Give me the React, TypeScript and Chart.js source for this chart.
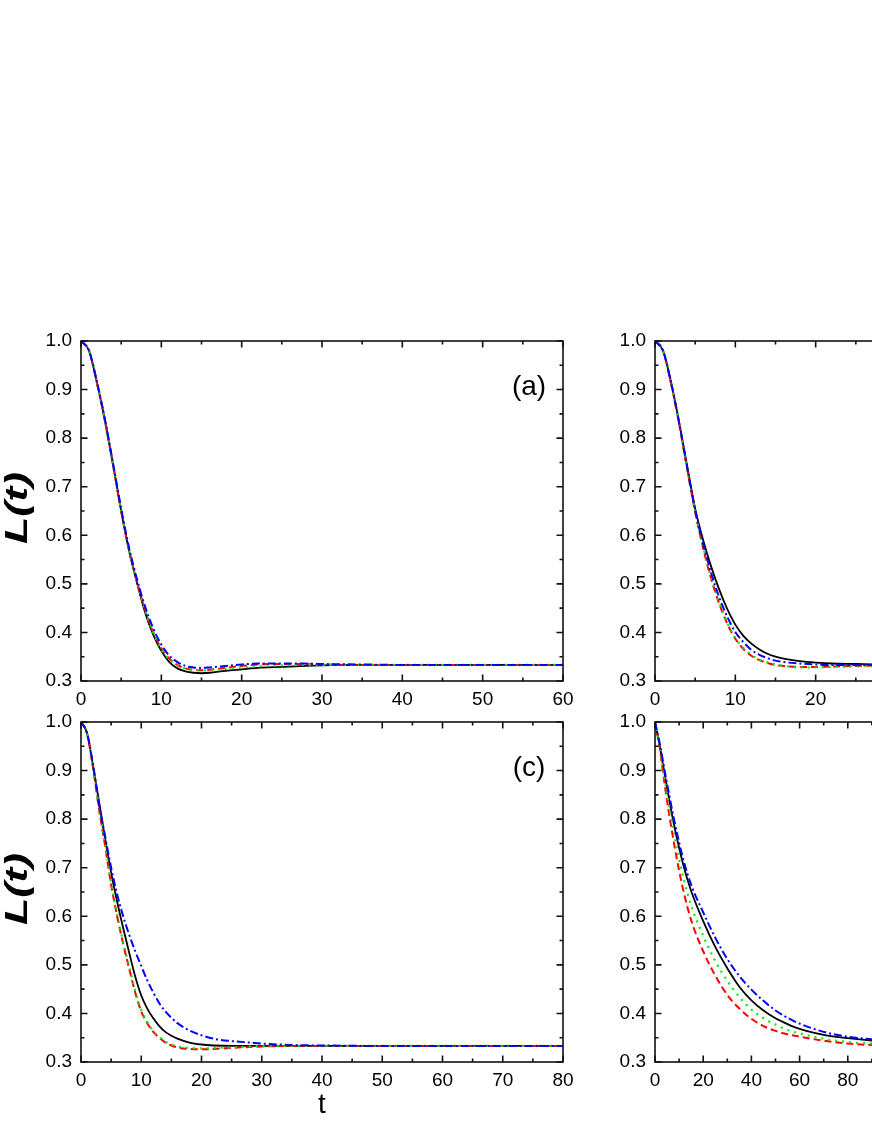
import React, { useEffect, useRef } from 'react';
import { Chart, registerables } from 'chart.js';

Chart.register(...registerables);

// ---------- data ----------
const tAB = [0, 1, 2, 3, 4, 5, 6, 7, 8, 9, 10, 11, 12, 13, 14, 15, 16, 18, 20, 22, 25, 28, 30, 35, 40, 45, 50, 55, 60];
const blackA = [1.0, 0.98, 0.913, 0.835, 0.745, 0.65, 0.567, 0.5, 0.44, 0.395, 0.362, 0.339, 0.326, 0.32, 0.317, 0.316, 0.317, 0.321, 0.324, 0.327, 0.329, 0.331, 0.332, 0.333, 0.333, 0.333, 0.333, 0.333, 0.333];
const redA = [1.0, 0.98, 0.913, 0.833, 0.743, 0.65, 0.568, 0.503, 0.445, 0.4, 0.367, 0.346, 0.333, 0.326, 0.323, 0.322, 0.323, 0.327, 0.331, 0.334, 0.335, 0.335, 0.334, 0.333, 0.333, 0.333, 0.333, 0.333, 0.333];
const greenA = [1.0, 0.98, 0.913, 0.833, 0.743, 0.65, 0.568, 0.503, 0.445, 0.4, 0.366, 0.344, 0.332, 0.326, 0.323, 0.322, 0.322, 0.325, 0.328, 0.33, 0.332, 0.333, 0.333, 0.333, 0.333, 0.333, 0.333, 0.333, 0.333];
const blueA = [1.0, 0.98, 0.915, 0.837, 0.747, 0.655, 0.573, 0.508, 0.452, 0.408, 0.375, 0.352, 0.339, 0.331, 0.328, 0.327, 0.328, 0.331, 0.334, 0.336, 0.336, 0.336, 0.335, 0.334, 0.333, 0.333, 0.333, 0.333, 0.333];

const blackB = [1.0, 0.98, 0.915, 0.833, 0.743, 0.655, 0.59, 0.535, 0.488, 0.448, 0.416, 0.393, 0.377, 0.365, 0.356, 0.35, 0.346, 0.341, 0.338, 0.336, 0.335, 0.334, 0.334, 0.333, 0.333, 0.333, 0.333, 0.333, 0.333];
const redB = [1.0, 0.98, 0.913, 0.83, 0.737, 0.648, 0.573, 0.51, 0.459, 0.418, 0.387, 0.366, 0.352, 0.343, 0.337, 0.333, 0.331, 0.329, 0.329, 0.33, 0.331, 0.332, 0.333, 0.333, 0.333, 0.333, 0.333, 0.333, 0.333];
const greenB = [1.0, 0.98, 0.913, 0.83, 0.737, 0.648, 0.575, 0.513, 0.462, 0.42, 0.389, 0.368, 0.354, 0.344, 0.338, 0.334, 0.331, 0.328, 0.328, 0.329, 0.33, 0.331, 0.332, 0.333, 0.333, 0.333, 0.333, 0.333, 0.333];
const blueB = [1.0, 0.98, 0.914, 0.832, 0.74, 0.652, 0.582, 0.522, 0.472, 0.432, 0.401, 0.38, 0.364, 0.354, 0.347, 0.342, 0.339, 0.336, 0.334, 0.333, 0.333, 0.333, 0.333, 0.333, 0.333, 0.333, 0.333, 0.333, 0.333];

const tC = [0, 1, 2, 3, 4, 5, 6, 7, 8, 9, 10, 11, 12, 13, 14, 15, 16, 18, 20, 22, 25, 28, 30, 35, 40, 50, 60, 70, 80];
const blackC = [1.0, 0.977, 0.91, 0.836, 0.76, 0.69, 0.63, 0.576, 0.525, 0.476, 0.437, 0.41, 0.39, 0.374, 0.362, 0.354, 0.348, 0.34, 0.336, 0.334, 0.333, 0.333, 0.333, 0.333, 0.333, 0.333, 0.333, 0.333, 0.333];
const redC = [1.0, 0.977, 0.905, 0.82, 0.745, 0.665, 0.6, 0.543, 0.492, 0.443, 0.404, 0.38, 0.362, 0.35, 0.34, 0.334, 0.33, 0.327, 0.326, 0.327, 0.329, 0.331, 0.332, 0.333, 0.333, 0.333, 0.333, 0.333, 0.333];
const greenC = [1.0, 0.977, 0.906, 0.822, 0.748, 0.668, 0.603, 0.546, 0.496, 0.447, 0.407, 0.382, 0.364, 0.352, 0.342, 0.336, 0.332, 0.329, 0.328, 0.329, 0.33, 0.332, 0.333, 0.333, 0.333, 0.333, 0.333, 0.333, 0.333];
const blueC = [1.0, 0.977, 0.912, 0.83, 0.765, 0.7, 0.645, 0.6, 0.562, 0.528, 0.498, 0.468, 0.443, 0.421, 0.404, 0.391, 0.38, 0.365, 0.355, 0.348, 0.343, 0.34, 0.338, 0.335, 0.334, 0.333, 0.333, 0.333, 0.333];

const tD = [0, 2, 4, 6, 8, 10, 12, 15, 20, 25, 30, 35, 40, 45, 50, 55, 60, 70, 80, 90, 100, 120, 140, 160, 180, 200];
const blackD = [1.0, 0.95, 0.893, 0.837, 0.786, 0.741, 0.701, 0.652, 0.59, 0.537, 0.493, 0.455, 0.427, 0.406, 0.39, 0.378, 0.368, 0.356, 0.349, 0.344, 0.341, 0.337, 0.335, 0.334, 0.333, 0.333];
const redD = [1.0, 0.945, 0.872, 0.806, 0.747, 0.694, 0.648, 0.592, 0.528, 0.478, 0.438, 0.41, 0.389, 0.374, 0.364, 0.357, 0.352, 0.344, 0.338, 0.335, 0.334, 0.333, 0.333, 0.333, 0.333, 0.333];
const greenD = [1.0, 0.948, 0.882, 0.822, 0.767, 0.717, 0.675, 0.622, 0.56, 0.508, 0.467, 0.434, 0.408, 0.39, 0.377, 0.366, 0.359, 0.348, 0.341, 0.338, 0.336, 0.334, 0.333, 0.333, 0.333, 0.333];
const blueD = [1.0, 0.955, 0.9, 0.847, 0.797, 0.752, 0.712, 0.665, 0.608, 0.556, 0.512, 0.477, 0.449, 0.426, 0.406, 0.391, 0.379, 0.362, 0.352, 0.347, 0.343, 0.338, 0.336, 0.335, 0.334, 0.334];

const yTickMin = 0.3;
const yTickMax = 1.0;
const yTickStep = 0.1;
const panelLabels = ['(a)', '(b)', '(c)', '(d)'];
const yTitle = 'L(t)';
const xTitle = 't';

// ---------- styling ----------
const FONT = '"Liberation Sans", Arial, Helvetica, sans-serif';

const framePlugin = {
  id: 'frame',
  afterDatasetsDraw(chart: any, _args: any, opts: any) {
    const { ctx, chartArea: a, scales } = chart;
    const xs = scales.x;
    const ys = scales.y;
    ctx.save();
    ctx.strokeStyle = '#111';
    ctx.lineWidth = 1.6;
    ctx.strokeRect(a.left, a.top, a.right - a.left, a.bottom - a.top);
    const major = 6.5;
    const minor = 3.5;
    ctx.beginPath();
    const xv = xs.ticks.map((t: any) => t.value);
    const yv = ys.ticks.map((t: any) => t.value);
    const xMarks: [number, number][] = [];
    xv.forEach((v: number, i: number) => {
      xMarks.push([v, major]);
      if (i < xv.length - 1) xMarks.push([(v + xv[i + 1]) / 2, minor]);
    });
    const yMarks: [number, number][] = [];
    yv.forEach((v: number, i: number) => {
      yMarks.push([v, major]);
      if (i < yv.length - 1) yMarks.push([(v + yv[i + 1]) / 2, minor]);
    });
    xMarks.forEach(([v, len]) => {
      const px = xs.getPixelForValue(v);
      ctx.moveTo(px, a.bottom);
      ctx.lineTo(px, a.bottom - len);
      ctx.moveTo(px, a.top);
      ctx.lineTo(px, a.top + len);
    });
    yMarks.forEach(([v, len]) => {
      const py = ys.getPixelForValue(v);
      ctx.moveTo(a.left, py);
      ctx.lineTo(a.left + len, py);
      ctx.moveTo(a.right, py);
      ctx.lineTo(a.right - len, py);
    });
    ctx.stroke();
    ctx.fillStyle = '#000';
    if (opts && opts.label) {
      ctx.font = `28px ${FONT}`;
      ctx.textAlign = 'center';
      ctx.textBaseline = 'middle';
      ctx.fillText(opts.label, a.right - 34, a.top + 46);
    }
    if (opts && opts.yTitle) {
      ctx.save();
      ctx.translate(18, (a.top + a.bottom) / 2 - 3);
      ctx.rotate(-Math.PI / 2);
      ctx.scale(1.4, 1);
      ctx.font = `italic bold 32px ${FONT}`;
      ctx.textAlign = 'center';
      ctx.textBaseline = 'middle';
      ctx.fillText(opts.yTitle, 0, 0);
      ctx.restore();
    }
    ctx.restore();
  },
};

type PanelSpec = {
  left: number;
  top: number;
  width: number;
  height: number;
  padTop: number;
  padRight: number;
  yWidth: number;
  xHeight: number;
  xMax: number;
  xStep: number;
  t: number[];
  series: number[][];
  label: string;
  showYTitle: boolean;
  showXTitle: boolean;
};

const COLORS = ['#000000', '#ff0000', '#00ee00', '#0000ff'];
const DASHES: number[][] = [[], [7, 4], [2, 5], [8, 3, 2, 3]];
const WIDTHS = [1.8, 2, 2.2, 2];

function Panel({ spec }: { spec: PanelSpec }) {
  const ref = useRef<HTMLCanvasElement>(null);
  useEffect(() => {
    if (!ref.current) return;
    const datasets = spec.series
      .map((vals, k) => ({
        data: spec.t.map((tv, i) => ({ x: tv, y: vals[i] })),
        borderColor: COLORS[k],
        backgroundColor: COLORS[k],
        borderWidth: WIDTHS[k],
        borderDash: DASHES[k],
        pointRadius: 0,
        fill: false,
        cubicInterpolationMode: 'monotone' as const,
      }))
      .reverse();
    const chart = new Chart(ref.current, {
      type: 'line',
      data: { datasets },
      plugins: [framePlugin],
      options: {
        responsive: false,
        animation: false,
        events: [],
        layout: { padding: { left: 0, top: spec.padTop, right: spec.padRight, bottom: 0 } },
        plugins: {
          legend: { display: false },
          tooltip: { enabled: false },
          frame: { label: spec.label, yTitle: spec.showYTitle ? yTitle : '' },
        } as any,
        scales: {
          x: {
            type: 'linear',
            min: 0,
            max: spec.xMax,
            afterFit: (s: any) => {
              s.height = spec.xHeight;
            },
            grid: { display: false, drawTicks: false },
            border: { display: false },
            ticks: {
              stepSize: spec.xStep,
              maxRotation: 0,
              autoSkip: false,
              color: '#000',
              padding: 7,
              font: { family: FONT, size: 19 },
            },
            title: {
              display: spec.showXTitle,
              text: xTitle,
              color: '#000',
              font: { family: FONT, size: 28 },
              padding: { top: 0, bottom: 6 },
            },
          },
          y: {
            type: 'linear',
            min: yTickMin,
            max: yTickMax,
            afterFit: (s: any) => {
              s.width = spec.yWidth;
            },
            grid: { display: false, drawTicks: false },
            border: { display: false },
            ticks: {
              stepSize: yTickStep,
              color: '#000',
              padding: 9,
              font: { family: FONT, size: 19 },
              callback: (v: any) => Number(v).toFixed(1),
            },
            title: { display: false },
          },
        },
      } as any,
    });
    return () => chart.destroy();
  }, [spec]);
  return (
    <canvas
      ref={ref}
      width={spec.width}
      height={spec.height}
      style={{
        position: 'absolute',
        left: spec.left,
        top: spec.top,
        width: spec.width + 'px',
        height: spec.height + 'px',
      }}
    />
  );
}

const PANELS: PanelSpec[] = [
  {
    left: 0, top: 300, width: 600, height: 440, padTop: 41, padRight: 37, yWidth: 81, xHeight: 59,
    xMax: 60, xStep: 10, t: tAB, series: [blackA, redA, greenA, blueA], label: panelLabels[0],
    showYTitle: true, showXTitle: false,
  },
  {
    left: 600, top: 300, width: 600, height: 440, padTop: 41, padRight: 63, yWidth: 55, xHeight: 59,
    xMax: 60, xStep: 10, t: tAB, series: [blackB, redB, greenB, blueB], label: panelLabels[1],
    showYTitle: false, showXTitle: false,
  },
  {
    left: 0, top: 690, width: 600, height: 438, padTop: 32, padRight: 37, yWidth: 81, xHeight: 66,
    xMax: 80, xStep: 10, t: tC, series: [blackC, redC, greenC, blueC], label: panelLabels[2],
    showYTitle: true, showXTitle: true,
  },
  {
    left: 600, top: 690, width: 600, height: 438, padTop: 32, padRight: 63, yWidth: 55, xHeight: 66,
    xMax: 200, xStep: 20, t: tD, series: [blackD, redD, greenD, blueD], label: panelLabels[3],
    showYTitle: false, showXTitle: true,
  },
];

export default function App() {
  return (
    <div
      style={{
        position: 'fixed',
        left: 0,
        top: 0,
        width: 872,
        height: 1128,
        overflow: 'hidden',
        background: '#fff',
      }}
    >
      {PANELS.map((p, i) => (
        <Panel key={i} spec={p} />
      ))}
    </div>
  );
}
